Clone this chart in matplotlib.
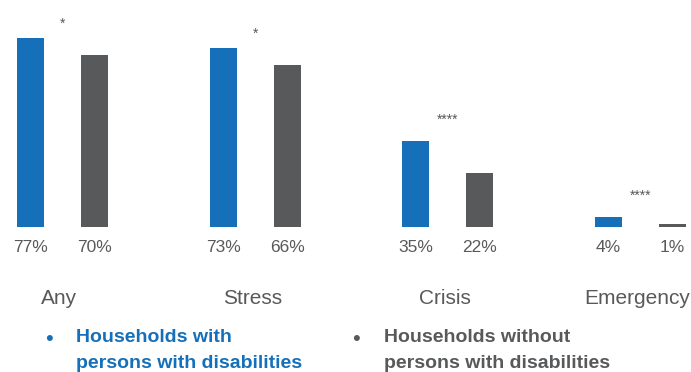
import matplotlib.pyplot as plt
from matplotlib import font_manager

categories = ["Any", "Stress", "Crisis", "Emergency"]
with_disab = [77, 73, 35, 4]
without_disab = [70, 66, 22, 1]
significance = ["*", "*", "****", "****"]
legend_with = ["Households with", "persons with disabilities"]
legend_without = ["Households without", "persons with disabilities"]

BLUE = "#1570b9"
GREY = "#58595b"
TEXT = "#595959"

names = {f.name for f in font_manager.fontManager.ttflist}
narrow = "Liberation Sans Narrow" if "Liberation Sans Narrow" in names else "Liberation Sans"
plt.rcParams["font.family"] = [narrow, "DejaVu Sans"]

W, H = 691, 372
fig = plt.figure(figsize=(W / 100, H / 100), dpi=100)

# plot area: bars sit on a baseline ~227 px from the top
base_px = 226.7
ax = fig.add_axes([0, (H - base_px) / H, 1, base_px / H])
group_px = 192.67
ax.set_xlim(-62.5 / group_px, (W - 62.5) / group_px)
ax.set_ylim(0, base_px / 2.45)
ax.axis("off")

off = 32 / group_px
bw = 27 / group_px
xs = range(len(categories))
for i in xs:
    for dx, v, c in ((-off, with_disab[i], BLUE), (off, without_disab[i], GREY)):
        ax.bar(i + dx, v, width=bw, color=c)
        ax.annotate(f"{v}%", xy=(i + dx, 0), xytext=(0, -15),
                    textcoords="offset points", ha="center", va="center",
                    fontsize=12.5, color=TEXT, annotation_clip=False)
    ax.annotate(categories[i], xy=(i, 0), xytext=(-2.2, -56),
                textcoords="offset points", ha="center", va="baseline",
                fontsize=15, color=TEXT, annotation_clip=False)
    pad = 10 if len(significance[i]) == 1 else 15
    ax.annotate(significance[i], xy=(i, max(with_disab[i], without_disab[i])),
                xytext=(0, pad), textcoords="offset points", ha="center",
                va="center", fontsize=10, color=TEXT, annotation_clip=False)

# bullet-style legend under the chart
for bx, tx, lines, col in ((49, 76, legend_with, BLUE), (356, 384, legend_without, GREY)):
    fig.text(bx / W, (H - 345) / H, "\u2022", ha="center", va="baseline",
             fontsize=16, color=col)
    for k, line in enumerate(lines):
        fig.text(tx / W, (H - 341.7 - 26.7 * k) / H, line, ha="left",
                 va="baseline", fontsize=14, fontweight="bold", color=col)

fig.savefig("out.png", dpi=100)
